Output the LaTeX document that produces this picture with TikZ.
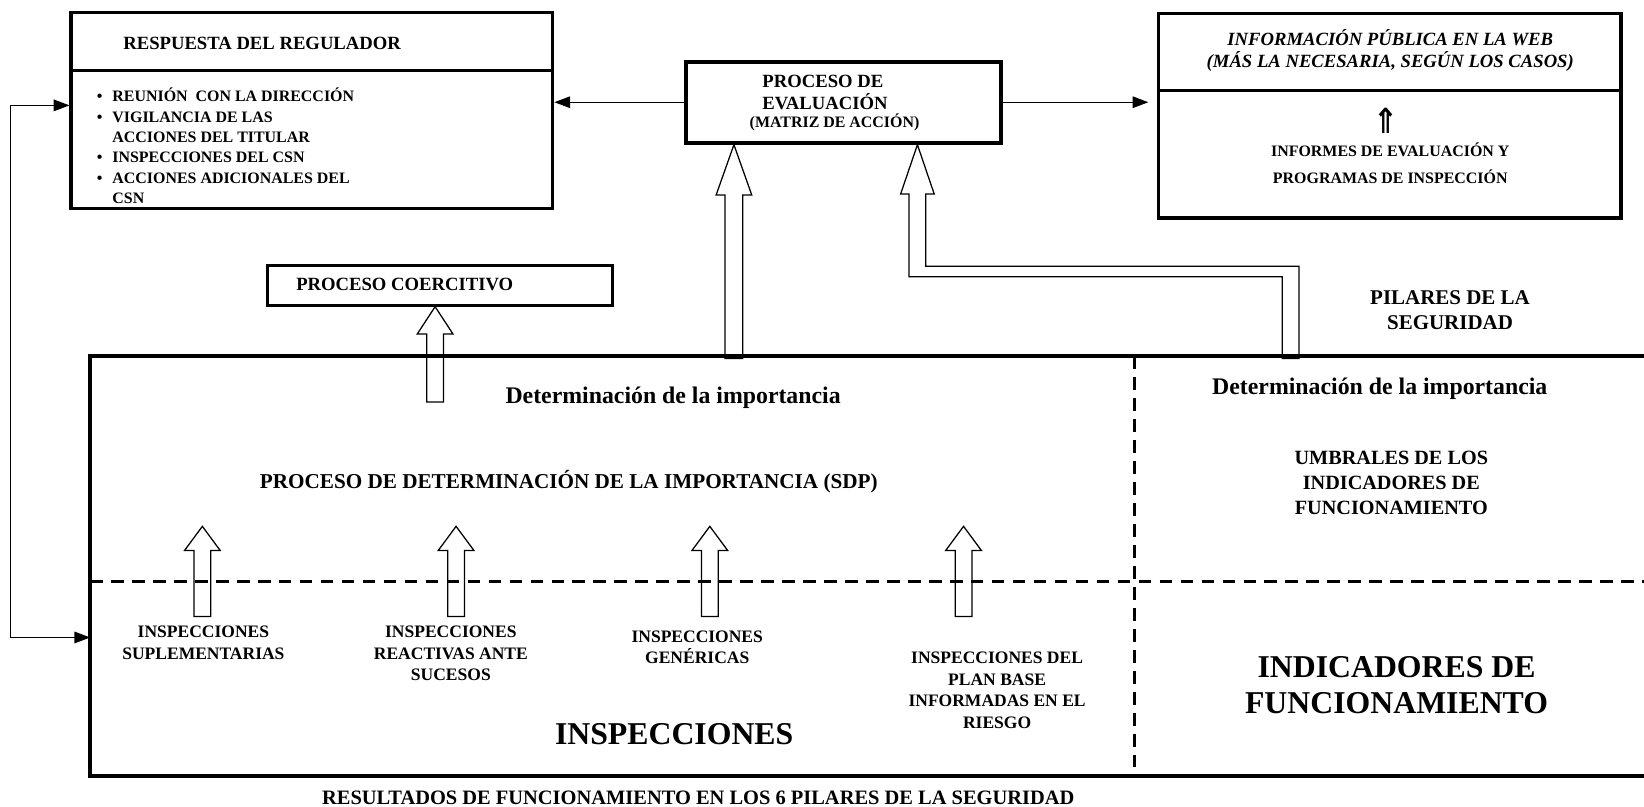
\documentclass[tikz,border=0pt]{standalone}
\usepackage{fontspec}
\setmainfont{Liberation Serif}
\newfontfamily\arrowfont{DejaVu Sans}
\usetikzlibrary{arrows.meta}

\begin{document}
\begin{tikzpicture}[x=1pt,y=-1pt,
  ftri/.tip={Triangle[length=15pt,width=11pt]},
  box/.style={draw,line width=3.5pt,inner sep=0pt},
  hol/.style={draw,line width=1.2pt},
  conn/.style={line width=1.3pt,-ftri},
  dashl/.style={line width=3pt,dash pattern=on 12pt off 8pt},
  lbl/.style={inner sep=0pt,align=center},
  fa/.style={font=\bfseries\fontsize{17.8}{21}\selectfont},
  fb/.style={font=\bfseries\fontsize{15.2}{19.4}\selectfont},
  fc/.style={font=\bfseries\fontsize{16.7}{20.5}\selectfont},
  fd/.style={font=\bfseries\fontsize{20}{23.5}\selectfont},
  fbig/.style={font=\bfseries\fontsize{30.3}{35}\selectfont}]
  \useasboundingbox (0,0) rectangle (1568,769);
  % respuesta del regulador
  \node[box,minimum width=459pt,minimum height=187pt] (resp) at (297.5,105.5) {};
  \draw[line width=3.5pt] ([yshift=-57pt]resp.north west) -- ([yshift=-57pt]resp.north east);
  \node[lbl,fa] (respT) at (250,41) {RESPUESTA DEL REGULADOR};
  \node[lbl,fb,anchor=north west] (respL) at (92.3,83.4) {%
    \begin{tabular}{@{}l@{\hspace{9.4pt}}l@{}}
      \textbullet & REUNIÓN\ \ CON LA DIRECCIÓN\\
      \textbullet & VIGILANCIA DE LAS\\
                  & ACCIONES DEL TITULAR\\
      \textbullet & INSPECCIONES DEL CSN\\
      \textbullet & ACCIONES ADICIONALES DEL\\
                  & CSN
    \end{tabular}};
  % proceso de evaluacion
  \node[box,line width=4pt,minimum width=301pt,minimum height=77pt] (eval) at (804.5,97.5) {};
  \node[lbl,fa,align=left,anchor=west] (evalT) at (727,88.5) {PROCESO DE\\EVALUACIÓN};
  \node[lbl,fb] (evalM) at (796,117) {(MATRIZ DE ACCIÓN)};
  % informacion publica
  \node[box,minimum width=441pt,minimum height=195pt] (info) at (1325.5,110.5) {};
  \draw[line width=3.5pt] ([yshift=-75pt]info.north west) -- ([yshift=-75pt]info.north east);
  \node[lbl,font=\bfseries\itshape\fontsize{17.8}{21}\selectfont] (infoT) at (1326,48.5)
    {INFORMACIÓN PÚBLICA EN LA WEB\\(MÁS LA NECESARIA, SEGÚN LOS CASOS)};
  \node[lbl,font=\arrowfont\bfseries\fontsize{30}{32}\selectfont,xscale=0.95,yscale=1.1,transform shape] (infoUp) at (1322,115) {⇑};
  \node[lbl,font=\bfseries\fontsize{15.2}{26}\selectfont] (infoR) at (1326,156)
    {INFORMES DE EVALUACIÓN Y\\PROGRAMAS DE INSPECCIÓN};
  % proceso coercitivo
  \node[box,line width=3pt,minimum width=329pt,minimum height=38pt] (coer) at (419.5,272) {};
  \node[lbl,fa] (coerT) at (386,271) {PROCESO COERCITIVO};
  \node[lbl,fd] (pilar) at (1383,296) {PILARES DE LA\\SEGURIDAD};
  % main frame, open on the right
  \node[inner sep=0pt,minimum width=1489pt,minimum height=400pt] (main) at (830.5,540) {};
  \draw[line width=3.5pt] (main.north east) -- (main.north west) -- (main.south west) -- (main.south east);
  \draw[dashl] (1082,340) -- (1082,740);
  \draw[dashl] (86,555) -- (1575,555);
  \node[lbl,font=\bfseries\fontsize{22.7}{26}\selectfont] (detL) at (642,379) {Determinación de la importancia};
  \node[lbl,font=\bfseries\fontsize{22.7}{26}\selectfont] (detR) at (1316,371) {Determinación de la importancia};
  \node[lbl,font=\bfseries\fontsize{20.2}{24}\selectfont] (sdp) at (542.5,459) {PROCESO DE DETERMINACIÓN DE LA IMPORTANCIA (SDP)};
  \node[lbl,font=\bfseries\fontsize{19.3}{23.5}\selectfont] (umbr) at (1327,460.5) {UMBRALES DE LOS\\INDICADORES DE\\FUNCIONAMIENTO};
  \node[lbl,fbig] (indic) at (1332,653.5) {INDICADORES DE\\FUNCIONAMIENTO};
  \node[lbl,fbig] (insp) at (643,700) {INSPECCIONES};
  \node[lbl,font=\bfseries\fontsize{19.5}{23}\selectfont] (result) at (666,761)
    {RESULTADOS DE FUNCIONAMIENTO EN LOS 6 PILARES DE LA SEGURIDAD};
  \foreach \x/\y/\t [count=\i] in {194/613/{INSPECCIONES\\SUPLEMENTARIAS},
      430/623.5/{INSPECCIONES\\REACTIVAS ANTE\\SUCESOS},
      665/617.5/{INSPECCIONES\\GENÉRICAS},
      951/658.5/{INSPECCIONES DEL\\PLAN BASE\\INFORMADAS EN EL\\RIESGO}}
    \node[lbl,fc] (kind\i) at (\x,\y) {\t};
  % hollow arrows
  \foreach \x in {193,435,677,919}
    \draw[hol] (\x,502) -- ++(17,23) -- ++(-9,0) -- ++(0,63) -- ++(-16,0) -- ++(0,-63) -- ++(-9,0) -- cycle;
  \coordinate (coA) at ([xshift=-4.5pt]coer.south);
  \draw[hol] (coA) -- ++(17,26) -- ++(-9,0) -- ++(0,65) -- ++(-16,0) -- ++(0,-65) -- ++(-9,0) -- cycle;
  \coordinate (evA) at ([xshift=-104.5pt]eval.south);
  \draw[hol] (evA) -- ++(17,48) -- ++(-8.5,0) -- ++(0,156) -- ++(-17,0) -- ++(0,-156) -- ++(-8.5,0) -- cycle;
  \coordinate (evB) at ([xshift=70.5pt]eval.south);
  \draw[hol] (evB) -- ++(16,47) -- ++(-8,0) -- ++(0,69) -- ++(356,0) -- ++(0,88) -- ++(-16,0)
    -- ++(0,-78) -- ++(-356,0) -- ++(0,-79) -- ++(-8,0) -- cycle;
  % connectors
  \draw[conn] (eval.west) -- (eval.west -| resp.east);
  \draw[conn,shorten >=8pt] (eval.east) -- (eval.east -| info.west);
  \coordinate (fbin) at (86,608);
  \draw[conn,ftri-ftri] ([yshift=5pt]resp.west) -- ++(-56,0) |- (fbin);
\end{tikzpicture}
\end{document}
